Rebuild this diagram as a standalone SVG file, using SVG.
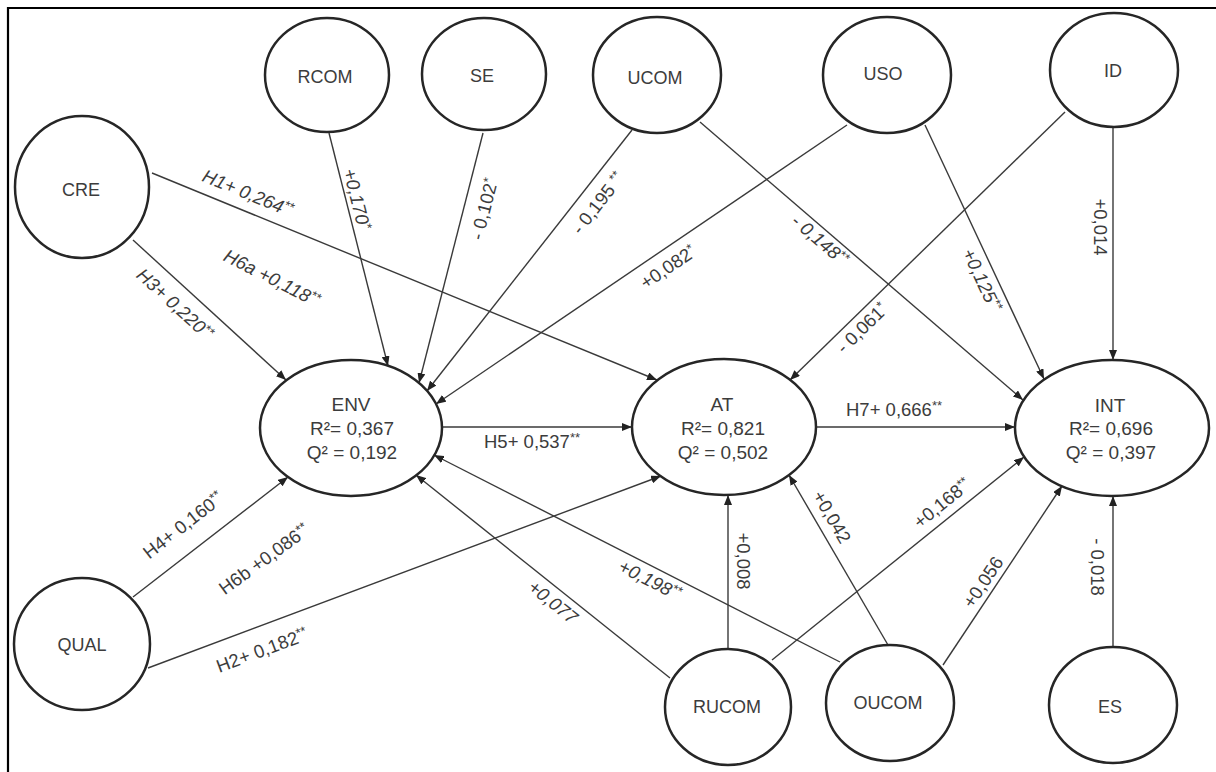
<svg xmlns="http://www.w3.org/2000/svg" width="1216" height="772" viewBox="0 0 1216 772">
<style>
.bg{fill:#ffffff}
.frame{fill:none;stroke:#000;stroke-width:2.2}
.node ellipse{fill:#ffffff;stroke:#262626;stroke-width:2.5}
.nt{font-family:"Liberation Sans",Arial,sans-serif;font-size:18px;fill:#3c3c3c;text-anchor:middle;dominant-baseline:central}
.big{font-size:19px}
.conn line{stroke:#3a3a3a;stroke-width:1.4;marker-end:url(#ah)}
.lb{font-family:"Liberation Sans",Arial,sans-serif;font-size:18.5px;fill:#3c3c3c;text-anchor:middle;dominant-baseline:central}
.it{font-style:italic}
.sup{font-size:13px}
</style>
<defs>
<marker id="ah" viewBox="0 0 10 8" refX="10" refY="4" markerWidth="10" markerHeight="8" markerUnits="userSpaceOnUse" orient="auto">
<path d="M0,0 L10,4 L0,8 z" fill="#222"/>
</marker>
</defs>
<rect class="bg" x="0" y="0" width="1216" height="772"/>
<path class="frame" d="M8,772 V8 H1216"/>

<g id="connectors" class="conn">
<line x1="152" y1="173" x2="657" y2="380"/>
<line x1="133" y1="240" x2="286" y2="380"/>
<line x1="329" y1="133" x2="388" y2="366"/>
<line x1="483" y1="133" x2="419" y2="383"/>
<line x1="632" y1="130" x2="427" y2="391"/>
<line x1="847" y1="125" x2="436" y2="404"/>
<line x1="700" y1="122" x2="1023" y2="400"/>
<line x1="925" y1="125" x2="1044" y2="379"/>
<line x1="1065" y1="112" x2="790" y2="380"/>
<line x1="1113" y1="128" x2="1113" y2="360"/>
<line x1="817" y1="427" x2="1015" y2="427"/>
<line x1="442" y1="427" x2="632" y2="427"/>
<line x1="133" y1="597" x2="288" y2="477"/>
<line x1="148" y1="668" x2="661" y2="476"/>
<line x1="670" y1="678" x2="416" y2="475"/>
<line x1="840" y1="662" x2="434" y2="455"/>
<line x1="728" y1="650" x2="728" y2="495"/>
<line x1="772" y1="660" x2="1024" y2="457"/>
<line x1="888" y1="645" x2="789" y2="475"/>
<line x1="943" y1="665" x2="1062" y2="486"/>
<line x1="1113" y1="647" x2="1113" y2="496"/>
</g>

<g id="labels">
<text class="lb it" transform="translate(248,193) rotate(22.3)">H1+ 0,264<tspan class="sup" dy="-4">**</tspan></text>
<text class="lb it" transform="translate(272,278) rotate(27)">H6a +0,118<tspan class="sup" dy="-4">**</tspan></text>
<text class="lb it" transform="translate(175,304) rotate(42.4)">H3+ 0,220<tspan class="sup" dy="-4">**</tspan></text>
<text class="lb it" transform="translate(357,199) rotate(75.8)">+0,170<tspan class="sup" dy="-4">*</tspan></text>
<text class="lb" transform="translate(484,209) rotate(-75.5)">- 0,102<tspan class="sup" dy="-4">*</tspan></text>
<text class="lb" transform="translate(598,203) rotate(-51.9)">- 0,195 <tspan class="sup" dy="-4">**</tspan></text>
<text class="lb" transform="translate(668,267) rotate(-34)">+0,082<tspan class="sup" dy="-4">*</tspan></text>
<text class="lb it" transform="translate(820,240) rotate(40.7)">- 0,148<tspan class="sup" dy="-4">**</tspan></text>
<text class="lb it" transform="translate(982,280) rotate(64.9)">+0,125<tspan class="sup" dy="-4">**</tspan></text>
<text class="lb" transform="translate(862,328) rotate(-44.3)">- 0,061<tspan class="sup" dy="-4">*</tspan></text>
<text class="lb" transform="translate(1100,227) rotate(90)">+0,014</text>
<text class="lb" transform="translate(532,441)">H5+ 0,537<tspan class="sup" dy="-4">**</tspan></text>
<text class="lb" transform="translate(894,409)">H7+ 0,666<tspan class="sup" dy="-4">**</tspan></text>
<text class="lb" transform="translate(183,525) rotate(-38)">H4+ 0,160<tspan class="sup" dy="-4">**</tspan></text>
<text class="lb" transform="translate(264,559) rotate(-36)">H6b +0,086<tspan class="sup" dy="-4">**</tspan></text>
<text class="lb" transform="translate(262,650) rotate(-20.5)">H2+ 0,182<tspan class="sup" dy="-4">**</tspan></text>
<text class="lb it" transform="translate(553,602) rotate(38.6)">+0,077</text>
<text class="lb it" transform="translate(650,580) rotate(27)">+0,198<tspan class="sup" dy="-4">**</tspan></text>
<text class="lb" transform="translate(743,561) rotate(90)">+0,008</text>
<text class="lb" transform="translate(832,517) rotate(59.8)">+0,042</text>
<text class="lb" transform="translate(942,503) rotate(-38.8)">+0,168<tspan class="sup" dy="-4">**</tspan></text>
<text class="lb" transform="translate(983,582) rotate(-56.4)">+0,056</text>
<text class="lb" transform="translate(1097,567) rotate(90)">- 0,018</text>
</g>

<g id="RCOM" class="node"><ellipse cx="327" cy="75" rx="62" ry="57"/><text class="nt" x="325" y="77">RCOM</text></g>
<g id="CRE" class="node"><ellipse cx="82" cy="187" rx="67" ry="71"/><text class="nt" x="81" y="190">CRE</text></g>
<g id="SE" class="node"><ellipse cx="484" cy="74" rx="62" ry="56"/><text class="nt" x="482" y="76">SE</text></g>
<g id="UCOM" class="node"><ellipse cx="657" cy="75" rx="64" ry="58"/><text class="nt" x="655" y="78">UCOM</text></g>
<g id="USO" class="node"><ellipse cx="887" cy="75" rx="64" ry="58"/><text class="nt" x="883" y="74">USO</text></g>
<g id="ID" class="node"><ellipse cx="1114" cy="70" rx="64" ry="57"/><text class="nt" x="1113" y="71">ID</text></g>
<g id="ENV" class="node"><ellipse cx="351" cy="428" rx="91" ry="68"/>
<text class="nt big" x="351" y="404">ENV</text>
<text class="nt big" x="352" y="428">R²= 0,367</text>
<text class="nt big" x="352" y="452">Q² = 0,192</text></g>
<g id="AT" class="node"><ellipse cx="724" cy="427" rx="92" ry="68"/>
<text class="nt big" x="722" y="404">AT</text>
<text class="nt big" x="723" y="428">R²= 0,821</text>
<text class="nt big" x="723" y="452">Q² = 0,502</text></g>
<g id="INT" class="node"><ellipse cx="1112" cy="428" rx="97" ry="68"/>
<text class="nt big" x="1110" y="405">INT</text>
<text class="nt big" x="1111" y="428">R²= 0,696</text>
<text class="nt big" x="1111" y="452">Q² = 0,397</text></g>
<g id="QUAL" class="node"><ellipse cx="82" cy="644" rx="68" ry="66"/><text class="nt" x="82" y="645">QUAL</text></g>
<g id="RUCOM" class="node"><ellipse cx="728" cy="707" rx="63" ry="58"/><text class="nt" x="727" y="707">RUCOM</text></g>
<g id="OUCOM" class="node"><ellipse cx="890" cy="703" rx="64" ry="58"/><text class="nt" x="888" y="703">OUCOM</text></g>
<g id="ES" class="node"><ellipse cx="1113" cy="705" rx="64" ry="58"/><text class="nt" x="1110" y="707">ES</text></g>
</svg>
